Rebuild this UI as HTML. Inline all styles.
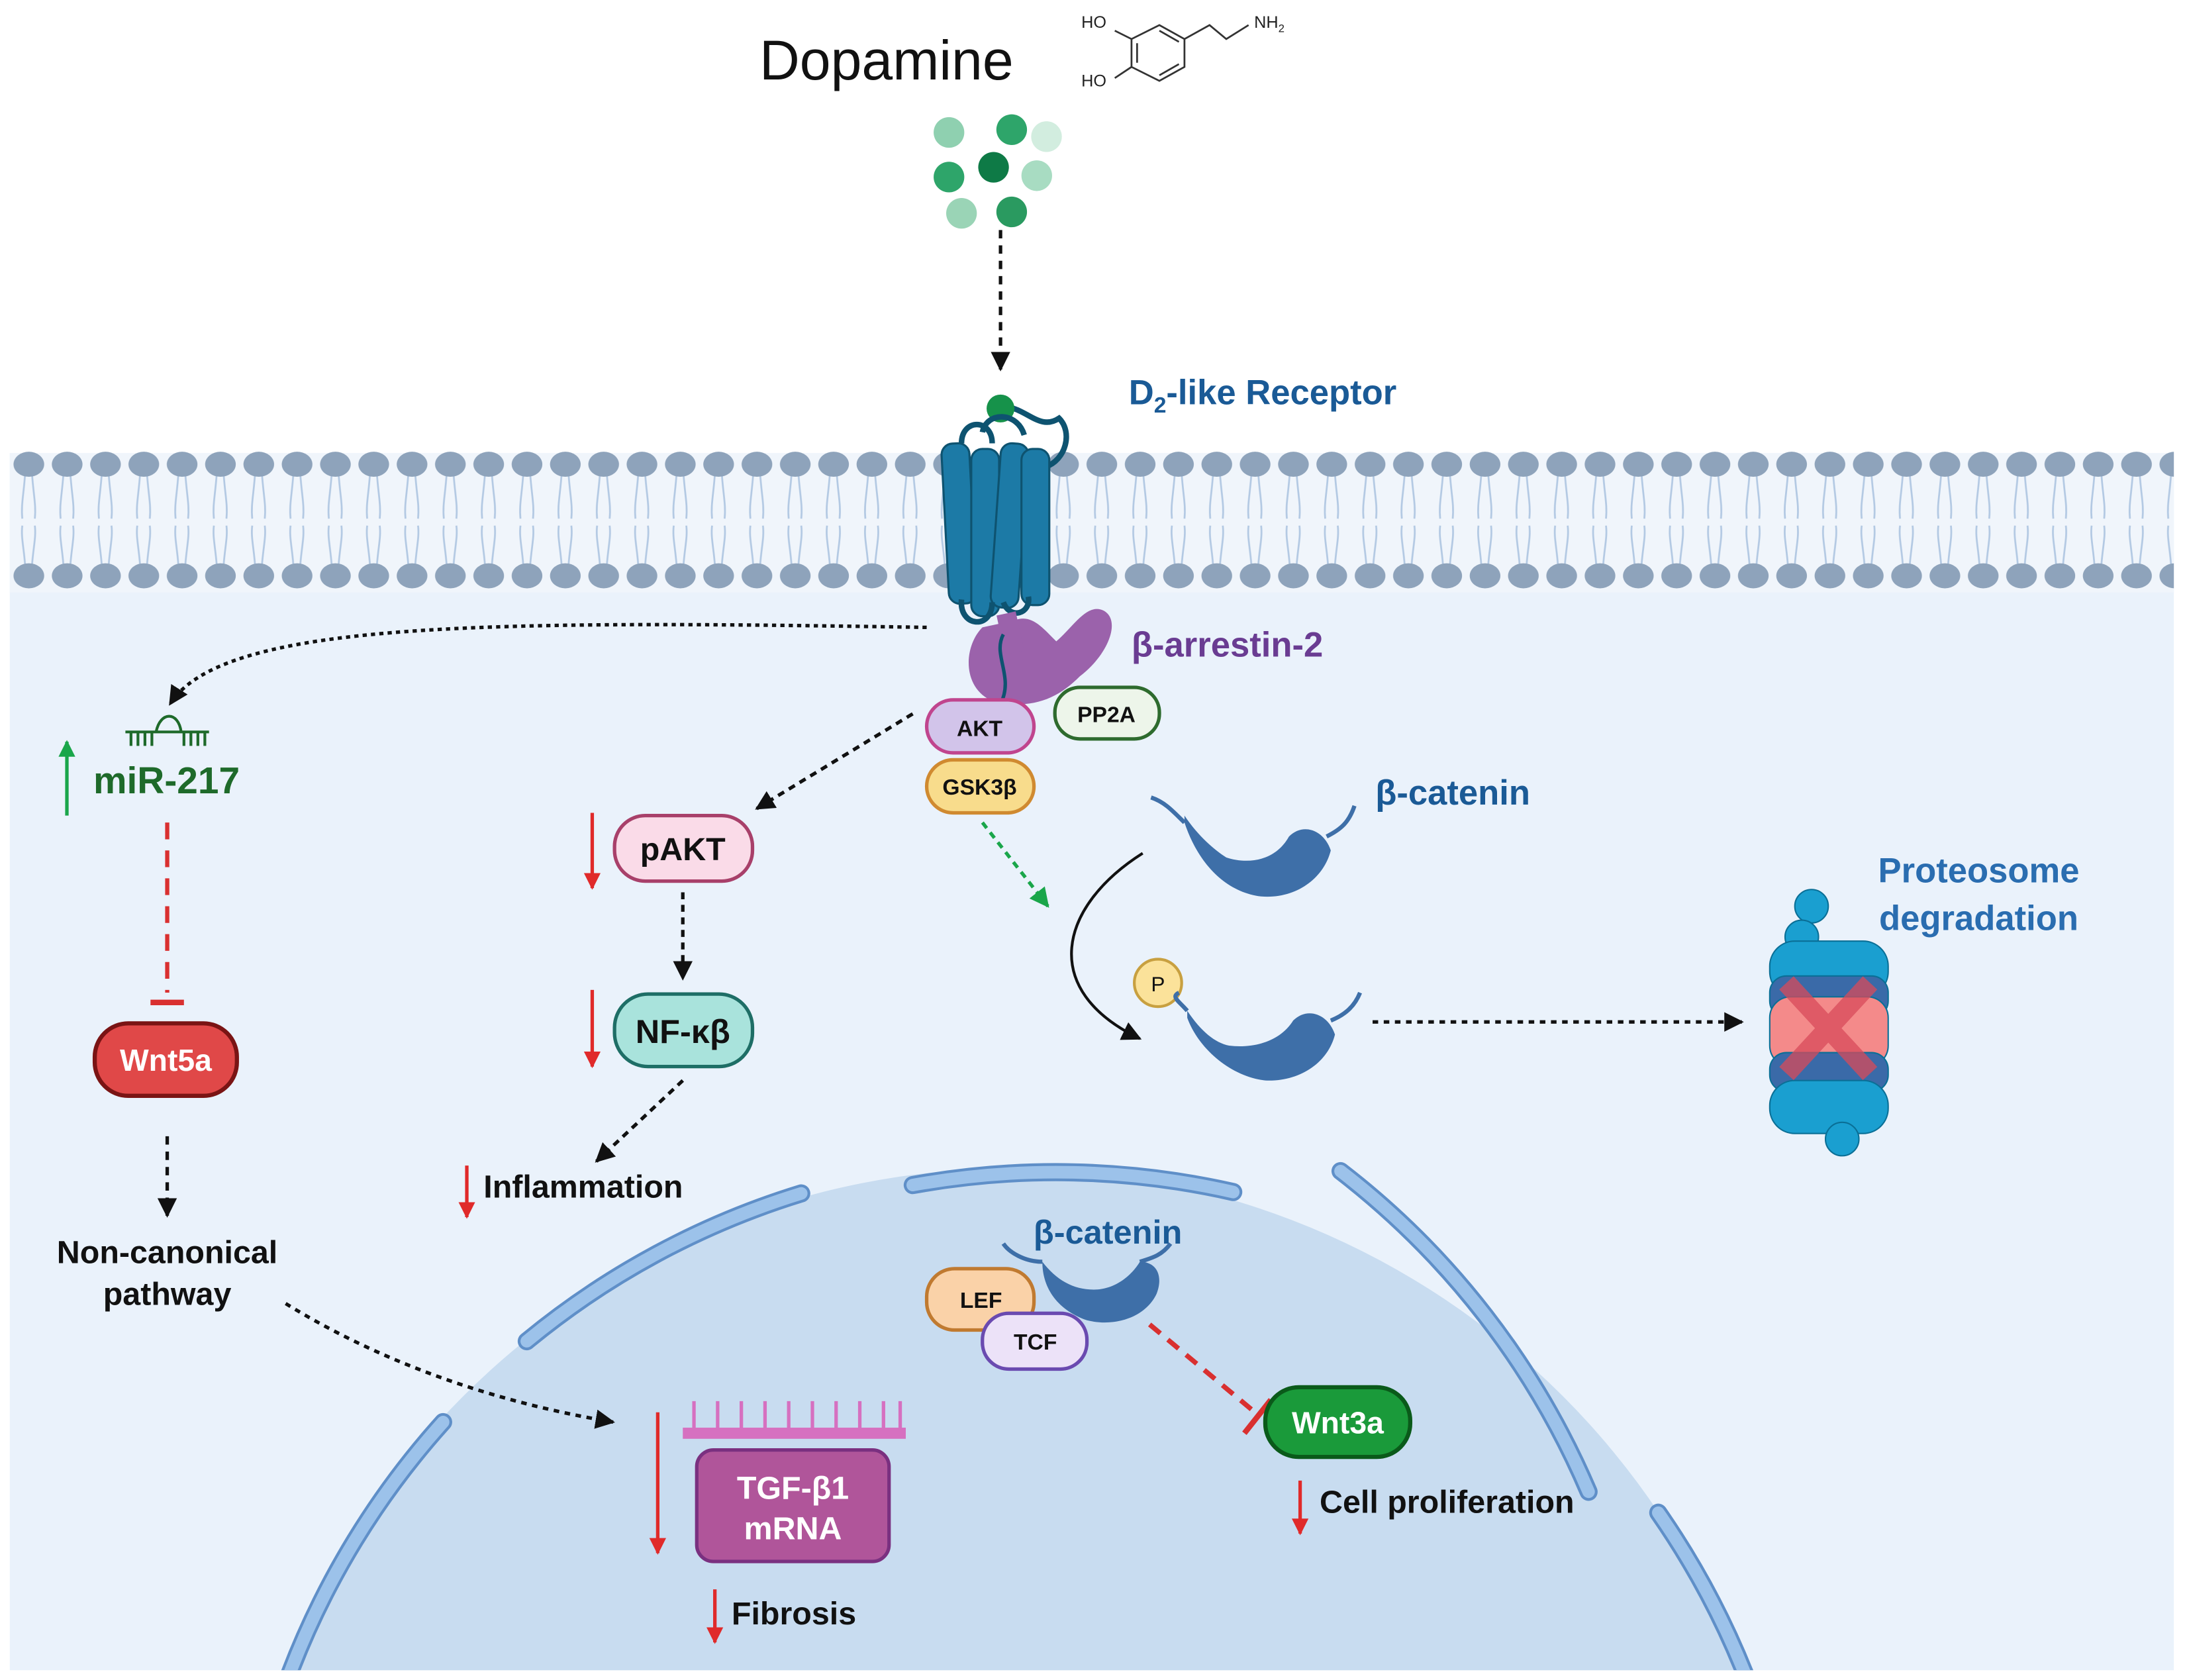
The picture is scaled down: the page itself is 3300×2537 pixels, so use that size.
<!DOCTYPE html>
<html><head><meta charset="utf-8"><style>
html,body{margin:0;padding:0;background:#fff;overflow:hidden;width:3300px;height:2537px}
svg{display:block;overflow:hidden}
text{font-family:"Liberation Sans",sans-serif;font-weight:bold}
</style></head><body>
<svg width="3300" height="2537" viewBox="0 0 1568 1205" preserveAspectRatio="none" xmlns="http://www.w3.org/2000/svg">
<defs>
<marker id="a" viewBox="0 0 10 10" markerWidth="14" markerHeight="14" refX="9" refY="5" orient="auto" markerUnits="userSpaceOnUse"><path d="M0,0 L10,5 L0,10z" fill="#111"/></marker>
<marker id="ag" viewBox="0 0 10 10" markerWidth="14" markerHeight="14" refX="9" refY="5" orient="auto" markerUnits="userSpaceOnUse"><path d="M0,0 L10,5 L0,10z" fill="#1aa64a"/></marker>
<marker id="ar" viewBox="0 0 10 10" markerWidth="12" markerHeight="14" refX="9" refY="5" orient="auto" markerUnits="userSpaceOnUse"><path d="M0,0 L10,5 L0,10z" fill="#e02a2a"/></marker>
<marker id="agr" viewBox="0 0 10 10" markerWidth="12" markerHeight="14" refX="9" refY="5" orient="auto" markerUnits="userSpaceOnUse"><path d="M0,0 L10,5 L0,10z" fill="#1aa64a"/></marker>
<pattern id="lip" x="7" y="0" width="27.5" height="1205" patternUnits="userSpaceOnUse">
<path d="M11,340 C10,355 8,362 9,372 M16,340 C17,355 19,362 18,372 M11,405 C10,392 8,385 9,377 M16,405 C17,392 19,385 18,377" stroke="#b3c9e3" stroke-width="1.3" fill="none"/>
<ellipse cx="13.7" cy="333" rx="11" ry="9" fill="#8ea3bb"/>
<ellipse cx="13.7" cy="413" rx="11" ry="9" fill="#8ea3bb"/>
</pattern>
<clipPath id="cl"><rect x="7" y="0" width="1553" height="1198"/></clipPath>
</defs>
<rect width="1568" height="1205" fill="#fff"/>
<rect x="7" y="325" width="1553" height="873" fill="#eaf2fb"/>
<rect x="7" y="325" width="1553" height="100" fill="#f0f5fb"/>
<rect x="7" y="322" width="1553" height="104" fill="url(#lip)"/>
<g clip-path="url(#cl)">
<circle cx="727" cy="1396" r="558" fill="#c8dcf0"/>
<g fill="none" stroke-linecap="round">
<g stroke="#5f8fc8" stroke-width="13">
<path d="M655,850 A575,575 0 0 1 885,855"/>
<path d="M575,856 A575,575 0 0 0 378,962"/>
<path d="M962,840 A575,575 0 0 1 1140,1070"/>
<path d="M318,1020 A575,575 0 0 0 208,1200"/>
<path d="M1190,1085 A575,575 0 0 1 1252,1200"/>
</g>
<g stroke="#9cc2ea" stroke-width="9">
<path d="M655,850 A575,575 0 0 1 885,855"/>
<path d="M575,856 A575,575 0 0 0 378,962"/>
<path d="M962,840 A575,575 0 0 1 1140,1070"/>
<path d="M318,1020 A575,575 0 0 0 208,1200"/>
<path d="M1190,1085 A575,575 0 0 1 1252,1200"/>
</g></g>
</g>
<text x="545" y="57" font-size="40" style="font-weight:normal" fill="#111">Dopamine</text>
<g stroke="#333" stroke-width="1.3" fill="none">
<path d="M812,28 L832,18 L850,28 L850,48 L832,58 L812,48 Z M816,31 L816,45 M832,22 L846,30 M846,46 L832,54 M850,28 L868,18 L880,28 L896,18"/>
<path d="M812,28 L800,22 M812,48 L800,56"/>
</g>
<text x="776" y="20" font-size="12" style="font-weight:normal" fill="#222">HO</text>
<text x="776" y="62" font-size="12" style="font-weight:normal" fill="#222">HO</text>
<text x="900" y="20" font-size="12" style="font-weight:normal" fill="#222">NH<tspan font-size="8" dy="3">2</tspan></text>
<g>
<circle cx="681" cy="95" r="11" fill="#8fd0b0"/><circle cx="726" cy="93" r="11" fill="#2ea56a"/><circle cx="751" cy="98" r="11" fill="#d2eddf"/>
<circle cx="713" cy="120" r="11" fill="#0e7a46"/><circle cx="681" cy="127" r="11" fill="#2ea56a"/><circle cx="744" cy="126" r="11" fill="#a8dcc2"/>
<circle cx="690" cy="153" r="11" fill="#9ad4b6"/><circle cx="726" cy="152" r="11" fill="#2a9a60"/>
</g>
<line x1="718" y1="165" x2="718" y2="265" stroke="#111" stroke-width="2.5" stroke-dasharray="6,5" marker-end="url(#a)"/>
<text x="810" y="290" font-size="25" fill="#1a5a96">D<tspan font-size="16" dy="6">2</tspan><tspan dy="-6">-like Receptor</tspan></text>
<path d="M718,292 C735,290 745,310 760,300 C770,310 765,330 750,335" stroke="#0e5370" stroke-width="4" fill="none"/>
<circle cx="718" cy="293" r="10" fill="#16924a"/>
<path d="M690,318 C690,300 712,300 712,318 M705,310 C708,295 730,295 735,312" stroke="#0e5370" stroke-width="4" fill="none"/>
<g fill="#1c7aa6" stroke="#0e5370" stroke-width="1.5">
<rect x="678" y="318" width="20" height="115" rx="8" transform="rotate(-3 688 370)"/>
<rect x="697" y="322" width="20" height="120" rx="8"/>
<rect x="715" y="318" width="20" height="118" rx="8" transform="rotate(4 725 370)"/>
<rect x="733" y="322" width="20" height="112" rx="8"/>
</g>
<path d="M690,430 C688,450 712,452 712,432 M720,432 C725,445 740,440 738,428" stroke="#0e5370" stroke-width="4" fill="none"/>
<path d="M705,450 C690,465 690,500 720,505 C745,507 760,500 775,485 C795,470 805,445 792,438 C780,432 770,450 758,460 C748,450 740,440 728,445 Z" fill="#9b62ab"/>
<path d="M722,440 L728,468" stroke="#9b62ab" stroke-width="14"/>
<path d="M720,455 C712,470 728,485 718,505" stroke="#0e5370" stroke-width="2.5" fill="none"/>
<text x="812" y="471" font-size="25" fill="#6a3c92">β-arrestin-2</text>
<rect x="665" y="502" width="77" height="38" rx="19" fill="#d2c4ea" stroke="#c0458e" stroke-width="2.5"/>
<text x="703" y="528" font-size="16" text-anchor="middle" fill="#111">AKT</text>
<rect x="757" y="493" width="75" height="37" rx="18" fill="#edf5ea" stroke="#2e6b2e" stroke-width="2.5"/>
<text x="794" y="518" font-size="16" text-anchor="middle" fill="#111">PP2A</text>
<rect x="665" y="545" width="77" height="38" rx="19" fill="#f8dc8c" stroke="#d08a30" stroke-width="2.5"/>
<text x="703" y="570" font-size="16" text-anchor="middle" fill="#111">GSK3β</text>
<path d="M665,450 C350,445 160,445 122,505" stroke="#111" stroke-width="2.5" stroke-dasharray="3,3" fill="none" marker-end="url(#a)"/>
<path d="M90,525 L150,525 M94,525 v10 M99,525 v10 M104,525 v10 M109,525 v10 M132,525 v10 M137,525 v10 M142,525 v10 M147,525 v10 M112,525 C115,510 128,510 130,525" stroke="#1e6a2a" stroke-width="2" fill="none"/>
<line x1="48" y1="585" x2="48" y2="532" stroke="#1aa64a" stroke-width="2.5" marker-end="url(#agr)"/>
<text x="67" y="569" font-size="27" fill="#1e6a2a">miR-217</text>
<line x1="120" y1="590" x2="120" y2="712" stroke="#d93030" stroke-width="3" stroke-dasharray="12,8"/>
<line x1="108" y1="719" x2="132" y2="719" stroke="#d93030" stroke-width="4"/>
<rect x="68" y="734" width="102" height="52" rx="24" fill="#e04848" stroke="#7a1414" stroke-width="3"/>
<text x="119" y="768" font-size="22" text-anchor="middle" fill="#fff">Wnt5a</text>
<line x1="120" y1="815" x2="120" y2="872" stroke="#111" stroke-width="2.5" stroke-dasharray="6,5" marker-end="url(#a)"/>
<text x="120" y="906" font-size="23" text-anchor="middle" fill="#111">Non-canonical</text>
<text x="120" y="936" font-size="23" text-anchor="middle" fill="#111">pathway</text>
<path d="M205,935 C270,975 350,1005 440,1020" stroke="#111" stroke-width="2.5" stroke-dasharray="4,4" fill="none" marker-end="url(#a)"/>
<line x1="655" y1="512" x2="543" y2="580" stroke="#111" stroke-width="2.5" stroke-dasharray="5,4" marker-end="url(#a)"/>
<rect x="441" y="585" width="99" height="47" rx="22" fill="#fadbe8" stroke="#a8406a" stroke-width="2.5"/>
<text x="490" y="617" font-size="23" text-anchor="middle" fill="#111">pAKT</text>
<line x1="425" y1="583" x2="425" y2="637" stroke="#e02a2a" stroke-width="2.5" marker-end="url(#ar)"/>
<line x1="490" y1="640" x2="490" y2="702" stroke="#111" stroke-width="2.5" stroke-dasharray="5,4" marker-end="url(#a)"/>
<rect x="441" y="713" width="99" height="52" rx="24" fill="#a9e3dc" stroke="#1e6e66" stroke-width="2.5"/>
<text x="490" y="748" font-size="24" text-anchor="middle" fill="#111">NF-κβ</text>
<line x1="425" y1="710" x2="425" y2="765" stroke="#e02a2a" stroke-width="2.5" marker-end="url(#ar)"/>
<line x1="490" y1="775" x2="428" y2="833" stroke="#111" stroke-width="2.5" stroke-dasharray="5,4" marker-end="url(#a)"/>
<line x1="335" y1="836" x2="335" y2="873" stroke="#e02a2a" stroke-width="2.5" marker-end="url(#ar)"/>
<text x="347" y="859" font-size="23" fill="#111">Inflammation</text>
<line x1="705" y1="590" x2="752" y2="650" stroke="#1aa64a" stroke-width="2.5" stroke-dasharray="5,4" marker-end="url(#ag)"/>
<text x="987" y="577" font-size="25" fill="#1a5a96">β-catenin</text>
<g fill="#3e6fa8">
<path d="M850,585 C860,600 872,610 880,615 C895,620 915,618 925,600 C935,590 950,595 955,610 C950,630 930,645 905,643 C880,640 860,620 850,590 Z"/>
<path d="M850,590 C840,580 835,575 826,572" stroke="#3e6fa8" stroke-width="3" fill="none"/>
<path d="M952,600 C962,595 968,590 972,578" stroke="#3e6fa8" stroke-width="3" fill="none"/>
</g>
<path d="M820,612 C760,650 745,710 818,745" stroke="#111" stroke-width="2" fill="none" marker-end="url(#a)"/>
<circle cx="831" cy="705" r="17" fill="#fbe29a" stroke="#c8a040" stroke-width="2"/>
<text x="831" y="711" font-size="15" text-anchor="middle" style="font-weight:normal" fill="#111">P</text>
<g fill="#3e6fa8">
<path d="M852,725 C862,740 872,748 882,750 C898,752 918,748 928,732 C938,722 953,727 958,742 C953,762 933,776 908,775 C883,772 860,752 852,730 Z"/>
<path d="M852,725 C846,718 840,715 846,712" stroke="#3e6fa8" stroke-width="3" fill="none"/>
<path d="M955,732 C965,728 972,722 976,712" stroke="#3e6fa8" stroke-width="3" fill="none"/>
</g>
<line x1="985" y1="733" x2="1250" y2="733" stroke="#111" stroke-width="2.5" stroke-dasharray="4,4" marker-end="url(#a)"/>
<text x="1420" y="633" font-size="25" text-anchor="middle" fill="#2a6db0">Proteosome</text>
<text x="1420" y="667" font-size="25" text-anchor="middle" fill="#2a6db0">degradation</text>
<g stroke="#0a6f96" stroke-width="1">
<circle cx="1300" cy="650" r="12" fill="#1a9fd0"/><circle cx="1293" cy="672" r="12" fill="#1a9fd0"/>
<rect x="1270" y="675" width="85" height="40" rx="18" fill="#1a9fd0"/>
<rect x="1270" y="700" width="85" height="30" rx="12" fill="#3a6aa8"/>
<rect x="1270" y="715" width="85" height="50" rx="15" fill="#f48a8a"/>
<rect x="1270" y="755" width="85" height="28" rx="12" fill="#3a6aa8"/>
<rect x="1270" y="775" width="85" height="38" rx="18" fill="#1a9fd0"/>
<circle cx="1322" cy="817" r="12" fill="#1a9fd0"/>
</g>
<path d="M1282,705 L1342,770 M1342,705 L1282,770" stroke="#d84a5a" stroke-width="14" opacity="0.75"/>
<text x="795" y="892" font-size="24" text-anchor="middle" fill="#1a5a96">β-catenin</text>
<g fill="#3e6fa8">
<path d="M748,905 C758,918 770,925 785,925 C800,925 812,915 818,905 C830,905 835,915 830,928 C822,945 800,952 780,947 C760,940 748,925 748,905 Z"/>
<path d="M748,905 C735,905 724,898 720,892" stroke="#3e6fa8" stroke-width="3" fill="none"/>
<path d="M818,905 C828,902 834,900 840,892" stroke="#3e6fa8" stroke-width="3" fill="none"/>
</g>
<rect x="665" y="910" width="77" height="44" rx="20" fill="#fad2a8" stroke="#c07a30" stroke-width="2.5"/>
<text x="704" y="938" font-size="16" text-anchor="middle" fill="#111">LEF</text>
<rect x="705" y="942" width="75" height="40" rx="19" fill="#ece2f8" stroke="#6a4ab0" stroke-width="2.5"/>
<text x="743" y="968" font-size="16" text-anchor="middle" fill="#111">TCF</text>
<line x1="825" y1="950" x2="903" y2="1015" stroke="#d93030" stroke-width="3.5" stroke-dasharray="10,7"/>
<line x1="893" y1="1028" x2="912" y2="1004" stroke="#d93030" stroke-width="4"/>
<rect x="908" y="995" width="104" height="50" rx="24" fill="#1a9a3a" stroke="#0a5a1a" stroke-width="3"/>
<text x="960" y="1028" font-size="22" text-anchor="middle" fill="#fff">Wnt3a</text>
<line x1="933" y1="1062" x2="933" y2="1100" stroke="#e02a2a" stroke-width="2.5" marker-end="url(#ar)"/>
<text x="947" y="1085" font-size="23" fill="#111">Cell proliferation</text>
<rect x="490" y="1024" width="160" height="8" fill="#d670c0"/>
<g stroke="#d670c0" stroke-width="2.5">
<line x1="498" y1="1005" x2="498" y2="1025"/><line x1="515" y1="1005" x2="515" y2="1025"/><line x1="532" y1="1005" x2="532" y2="1025"/><line x1="549" y1="1005" x2="549" y2="1025"/><line x1="566" y1="1005" x2="566" y2="1025"/><line x1="583" y1="1005" x2="583" y2="1025"/><line x1="600" y1="1005" x2="600" y2="1025"/><line x1="617" y1="1005" x2="617" y2="1025"/><line x1="634" y1="1005" x2="634" y2="1025"/><line x1="646" y1="1005" x2="646" y2="1025"/>
</g>
<rect x="500" y="1040" width="138" height="80" rx="12" fill="#b0559a" stroke="#7a3080" stroke-width="2.5"/>
<text x="569" y="1075" font-size="23" text-anchor="middle" fill="#fff">TGF-β1</text>
<text x="569" y="1104" font-size="23" text-anchor="middle" fill="#fff">mRNA</text>
<line x1="472" y1="1013" x2="472" y2="1114" stroke="#e02a2a" stroke-width="2.5" marker-end="url(#ar)"/>
<line x1="513" y1="1140" x2="513" y2="1178" stroke="#e02a2a" stroke-width="2.5" marker-end="url(#ar)"/>
<text x="525" y="1165" font-size="23" fill="#111">Fibrosis</text>
</svg>
</body></html>
